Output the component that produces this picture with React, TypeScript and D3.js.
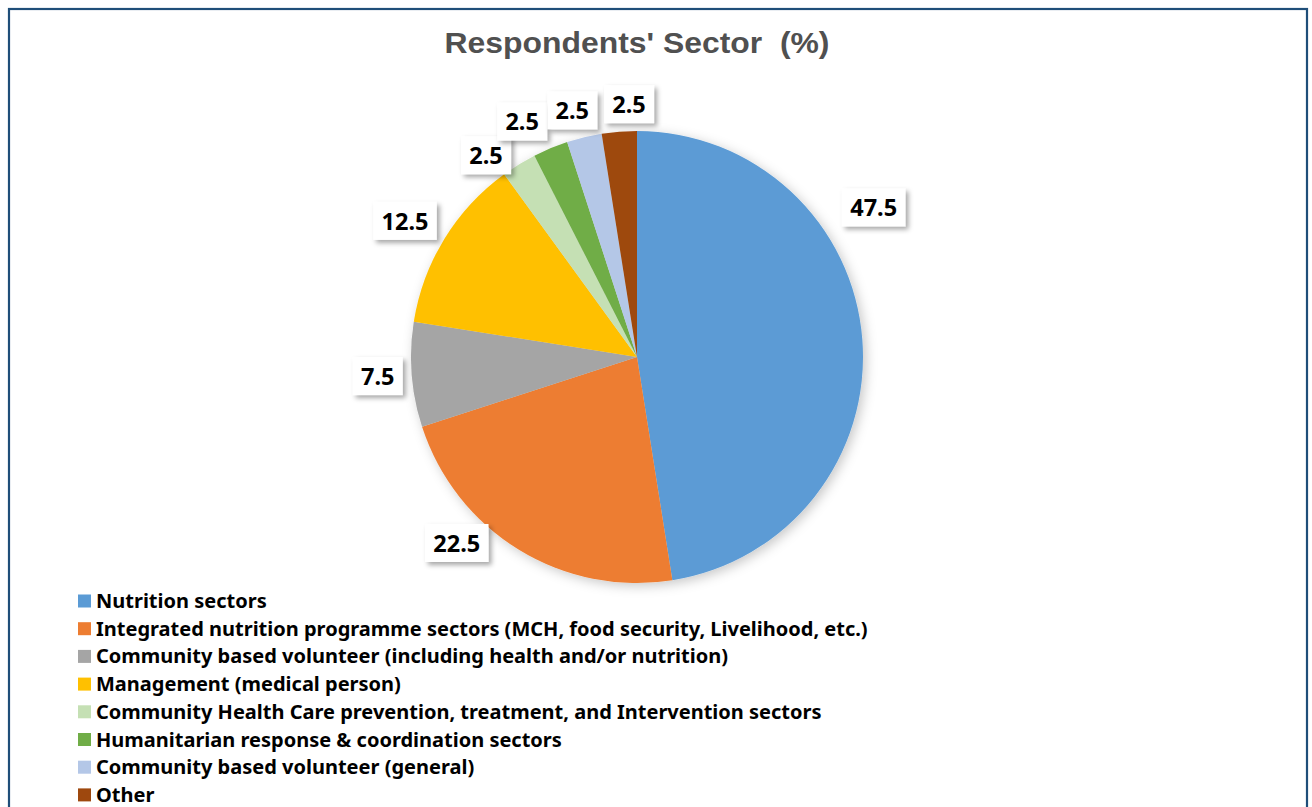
import React from "react";
import * as d3 from "d3";

// ---- data ----
const categories = [
  "Nutrition sectors",
  "Integrated nutrition programme sectors (MCH, food security, Livelihood, etc.)",
  "Community based volunteer (including health and/or nutrition)",
  "Management (medical person)",
  "Community Health Care prevention, treatment, and Intervention sectors",
  "Humanitarian response & coordination sectors",
  "Community based volunteer (general)",
  "Other",
];
const values = [47.5, 22.5, 7.5, 12.5, 2.5, 2.5, 2.5, 2.5];
const colors = ["#5B9BD5", "#ED7D31", "#A5A5A5", "#FFC000", "#C5E0B4", "#70AD47", "#B4C7E7", "#9E480E"];
const title = "Respondents' Sector  (%)";

// ---- layout ----
const W = 1312;
const H = 807;
const cx = 637;
const cy = 357;
const radius = 226;
// label placement relative to slice mid-angle (degrees) and distance from centre
const labelAngleOffset = [-27.8, 12.6, 0.3, -1.1, -5.3, -3.5, -1.2, 2.7];
const labelDist = [280, 259, 260, 269, 252, 262, 255, 253];
const legendX = 78;
const legendY0 = 601;
const legendStep = 27.7;

export default function App() {
  const pie = d3.pie<number>().sort(null).value((d) => d)(values);
  const arc = d3.arc<d3.PieArcDatum<number>>().innerRadius(0).outerRadius(radius);

  const charW = (s: string) =>
    s.split("").reduce((a, c) => a + (c === "." ? 7 : 13.5), 0);

  return (
    <svg
      width={W}
      height={H}
      style={{ position: "absolute", left: 0, top: 0, background: "#fff" }}
    >
      <defs>
        <filter id="pieShadow" x="-20%" y="-20%" width="140%" height="140%">
          <feDropShadow dx="3" dy="3" stdDeviation="6" floodColor="#000" floodOpacity="0.22" />
        </filter>
        <filter id="boxShadow" x="-30%" y="-30%" width="160%" height="160%">
          <feDropShadow dx="3" dy="3" stdDeviation="2.5" floodColor="#000" floodOpacity="0.35" />
        </filter>
      </defs>
      <rect x={0} y={0} width={W} height={H} fill="#fff" />
      <rect x={9} y={9} width={1298} height={830} fill="none" stroke="#1F4E79" strokeWidth={2.2} />

      <text
        x={cx}
        y={53}
        textAnchor="middle"
        fontFamily="'Liberation Sans', Arial, sans-serif"
        fontWeight="bold"
        fontSize={29}
        fill="#505050"
        textLength={385}
        lengthAdjust="spacingAndGlyphs"
        style={{ whiteSpace: "pre" }}
      >
        {title}
      </text>

      <g transform={`translate(${cx},${cy})`} filter="url(#pieShadow)">
        {pie.map((d, i) => (
          <path key={i} d={arc(d) || ""} fill={colors[i]} />
        ))}
      </g>

      {pie.map((d, i) => {
        const mid = ((d.startAngle + d.endAngle) / 2) * (180 / Math.PI) + labelAngleOffset[i];
        const a = (mid * Math.PI) / 180;
        const x = cx + labelDist[i] * Math.sin(a);
        const y = cy - labelDist[i] * Math.cos(a);
        const txt = String(values[i]);
        const bw = charW(txt) + 16;
        const bh = 38;
        return (
          <g key={i}>
            <rect
              x={x - bw / 2}
              y={y - bh / 2}
              width={bw}
              height={bh}
              fill="#fff"
              filter="url(#boxShadow)"
            />
            <text
              x={x}
              y={y + 8.7}
              textAnchor="middle"
              fontFamily="'Noto Sans', 'Open Sans', sans-serif"
              fontWeight="bold"
              fontSize={23.5}
              fill="#000"
            >
              {txt}
            </text>
          </g>
        );
      })}

      {categories.map((c, i) => {
        const y = legendY0 + i * legendStep;
        return (
          <g key={i}>
            <rect x={legendX} y={y - 6.5} width={13} height={13} fill={colors[i]} />
            <text
              x={96}
              y={y + 7}
              fontFamily="'Noto Sans', 'Open Sans', sans-serif"
              fontWeight="bold"
              fontSize={20}
              fill="#000"
            >
              {c}
            </text>
          </g>
        );
      })}
    </svg>
  );
}
